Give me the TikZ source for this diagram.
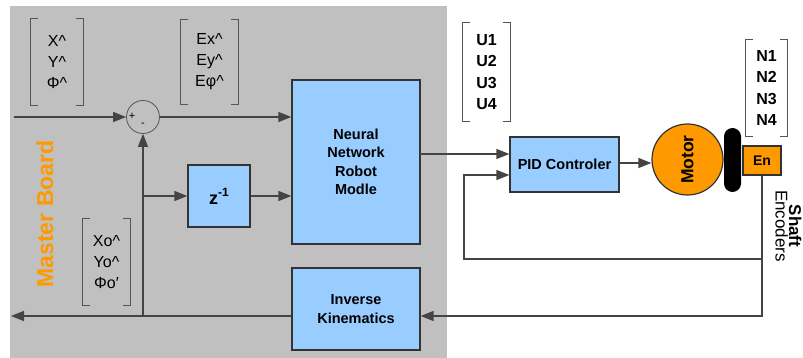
\documentclass[tikz,border=0pt]{standalone}
\usepackage{fontspec}
\setmainfont{Liberation Sans}
\usetikzlibrary{arrows.meta,calc}
\definecolor{panelgray}{HTML}{C0C0C0}
\definecolor{boxblue}{HTML}{99CCFF}
\definecolor{boxline}{HTML}{333333}
\definecolor{wiregray}{HTML}{444444}
\definecolor{brkgray}{HTML}{555555}
\definecolor{mborange}{HTML}{FF9900}
\definecolor{motororange}{HTML}{FF9900}
% square brackets around a vector node
\newcommand\drawbrackets[1]{%
  \draw[brk] ([xshift=7pt]#1.north west) -- (#1.north west) -- (#1.south west) -- ([xshift=7pt]#1.south west);
  \draw[brk] ([xshift=-7pt]#1.north east) -- (#1.north east) -- (#1.south east) -- ([xshift=-7pt]#1.south east);
}
\newcommand\hatc{\textasciicircum}
\begin{document}
\begin{tikzpicture}[x=1pt,y=-1pt,
  blk/.style={draw=boxline, fill=boxblue, line width=1.2pt, align=center, inner sep=0pt,
    font=\fontsize{14.5}{18.5}\selectfont\bfseries},
  vec/.style={inner sep=0pt, align=center, font=\fontsize{16}{21}\selectfont},
  vecb/.style={inner sep=0pt, align=center, font=\fontsize{16}{21.3}\selectfont\bfseries},
  brk/.style={draw=brkgray, line width=1.3pt},
  wire/.style={draw=wiregray, line width=1.3pt},
  arr/.style={wire, -{Triangle[length=13pt,width=10pt]}},
]
\useasboundingbox (0,0) rectangle (803,358);
\fill[white] (0,0) rectangle (803,358);
% master board panel
\fill[panelgray] (10,6) rectangle (447,358);
\node[rotate=90, text=mborange, font=\fontsize{23}{23}\selectfont\bfseries] (mb) at (45,214) {Master Board};

% blocks
\node[blk, minimum width=128pt, minimum height=164pt] (nn) at (356,162) {Neural\\Network\\Robot\\Modle};
\node[blk, minimum width=62pt, minimum height=62pt, font=\fontsize{18}{18}\selectfont\bfseries] (z) at (219,196)
  {z\raisebox{8pt}{\fontsize{12}{12}\selectfont -1}};
\node[blk, minimum width=128pt, minimum height=82pt] (ik) at (356,309) {Inverse\\Kinematics};
\node[blk, minimum width=109pt, minimum height=55pt] (pid) at (564.5,164.5) {PID Controler};
\node[circle, draw=boxline, line width=1.2pt, fill=motororange, minimum size=71pt, inner sep=0pt] (motor) at (687.5,159.5) {};
\node[rotate=90, font=\fontsize{17.5}{17.5}\selectfont\bfseries] (motortxt) at (motor.center) {Motor};
\fill[black, rounded corners=8.5pt] (724,128) rectangle (741,192);
\node[draw=boxline, line width=1.2pt, fill=motororange, minimum width=38pt, minimum height=29pt, inner sep=0pt,
  font=\fontsize{14}{14}\selectfont\bfseries] (en) at (762,160.5) {En};
\node[rotate=-90, align=center, inner sep=0pt] (shaft) at (788.5,226)
  {{\fontsize{17}{22}\selectfont\bfseries Shaft}\\{\fontsize{17}{22}\selectfont Encoders}};

% summing junction
\node[circle, draw=brkgray, line width=0.8pt, minimum size=33pt, inner sep=0pt] (sum) at (143,117) {};
\node[font=\fontsize{11}{11}\selectfont, inner sep=0pt] (plus) at (132,116) {+};
\node[font=\fontsize{11}{11}\selectfont, inner sep=0pt] (minus) at (143,125) {-};

% vectors
\node[vec, minimum width=52pt, minimum height=86pt] (xin) at (57,62) {X\hatc\\Y\hatc\\Φ\hatc};
\drawbrackets{xin}
\node[vec, minimum width=57pt, minimum height=84pt] (err) at (209.5,62) {Ex\hatc\\Ey\hatc\\Eφ\hatc};
\drawbrackets{err}
\node[vec, minimum width=47pt, minimum height=86pt] (xo) at (106.5,262) {Xo\hatc\\Yo\hatc\\Φo′};
\drawbrackets{xo}
\node[vecb, minimum width=47pt, minimum height=98pt] (uvec) at (486.5,72) {U1\\U2\\U3\\U4};
\drawbrackets{uvec}
\node[vecb, minimum width=41pt, minimum height=96pt] (nvec) at (766.5,88) {N1\\N2\\N3\\N4};
\drawbrackets{nvec}

% connectors
\coordinate (inp) at (14,117);
\coordinate (outp) at (11,316);
\coordinate (junc) at (143,316);
\coordinate (tap) at (143,196);
\coordinate (nnout) at (420,154);
\coordinate (encdown) at (762,316);
\coordinate (fbR) at (762,259);
\coordinate (fbL) at (464,259);

\draw[arr] (inp) -- (sum.west);
\draw[arr] (sum.east) -- (nn.west |- sum.east);
\draw[arr] (junc) -- (sum.south);
\draw[arr] (tap) -- (z.west);
\draw[arr] (z.east) -- (nn.west |- z.east);
\draw[arr] (ik.west |- junc) -- (outp);
\draw[arr] (nnout) -- (pid.west |- nnout);
\draw[arr] (pid.east |- 0,163) -- (motor.west |- 0,163);
\draw[arr] (en.south) -- (encdown) -- (ik.east |- encdown);
\draw[arr] (fbR) -- (fbL) -- (fbL |- 0,175) -- (pid.west |- 0,175);
\end{tikzpicture}
\end{document}
